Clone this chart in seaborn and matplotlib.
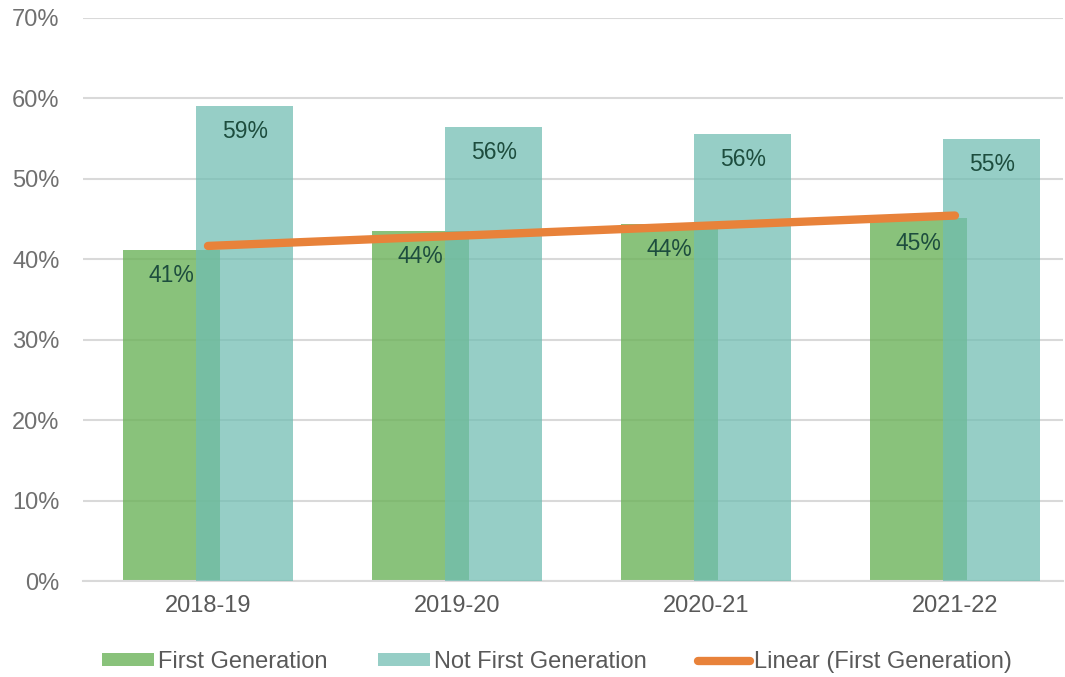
import pandas as pd
import numpy as np
import matplotlib
matplotlib.use("Agg")
import matplotlib.pyplot as plt
import seaborn as sns

years = ["2018-19", "2019-20", "2020-21", "2021-22"]
first_gen = [41.2, 43.5, 44.4, 45.1]
not_first_gen = [59.1, 56.5, 55.6, 55.0]
first_labels = ["41%", "44%", "44%", "45%"]
not_first_labels = ["59%", "56%", "56%", "55%"]
legend_order = ["First Generation", "Not First Generation", "Linear (First Generation)"]

sns.set_style("white")
plt.rcParams['font.family'] = ['Liberation Sans', 'DejaVu Sans']

green = "#6cb35a"
teal = "#70bdb2"
orange = "#e8823a"
label_col = "#1d4d3e"

idx = np.arange(len(years))
offset = 0.148
df_fg = pd.DataFrame({"x": idx - offset, "v": first_gen})
df_nfg = pd.DataFrame({"x": idx + offset, "v": not_first_gen})
df_trend = pd.DataFrame({"x": idx, "v": first_gen})

fig = plt.figure(figsize=(10.65, 6.77), dpi=100)
ax = fig.add_axes([83 / 1065, 1 - 581 / 677, (1063 - 83) / 1065, (581 - 18) / 677])

sns.barplot(data=df_fg, x="x", y="v", native_scale=True, width=0.39,
            color=green, alpha=0.8, saturation=1, ax=ax, zorder=2,
            linewidth=0, label=legend_order[0])
sns.barplot(data=df_nfg, x="x", y="v", native_scale=True, width=0.39,
            color=teal, alpha=0.73, saturation=1, ax=ax, zorder=3,
            linewidth=0, label=legend_order[1])
sns.regplot(data=df_trend, x="x", y="v", scatter=False, ci=None, truncate=True,
            color=orange, ax=ax, label=legend_order[2],
            line_kws=dict(lw=6, solid_capstyle="round", zorder=4))

# data labels inside the top of each bar
for xs, vals, labs in [(df_fg["x"], first_gen, first_labels),
                       (df_nfg["x"], not_first_gen, not_first_labels)]:
    for x, v, t in zip(xs, vals, labs):
        ax.annotate(t, (x, v), xytext=(0, -18.5), textcoords="offset points",
                    ha="center", va="center", fontsize=16.5, color=label_col,
                    zorder=5)

ax.set_ylim(0, 70)
ax.set_xlim(-0.502, 3.434)
ax.set_yticks(range(0, 71, 10))
ax.set_yticklabels([f"{t}%" for t in range(0, 71, 10)])
ax.set_xticks(idx)
ax.set_xticklabels(years)
ax.yaxis.grid(True, color="#d9d9d9", lw=1.5, zorder=0)
ax.set_axisbelow(True)
for s in ["top", "right", "left"]:
    ax.spines[s].set_visible(False)
ax.spines["bottom"].set_color("#d9d9d9")
ax.spines["bottom"].set_linewidth(1.5)
ax.tick_params(axis="y", length=0, pad=17, labelsize=17, labelcolor="#707070")
ax.tick_params(axis="x", length=0, pad=10, labelsize=17, labelcolor="#595959")
ax.set_xlabel("")
ax.set_ylabel("")

handles, labels = ax.get_legend_handles_labels()
if ax.get_legend() is not None:
    ax.get_legend().remove()
lookup = dict(zip(labels, handles))
leg = fig.legend([lookup[l] for l in legend_order], legend_order,
                 loc="center", bbox_to_anchor=(557 / 1065, 1 - 662 / 677),
                 ncol=3, frameon=False, fontsize=17, handlelength=2.2,
                 handleheight=0.45, handletextpad=0.17, columnspacing=2.15,
                 borderpad=0)
for t in leg.get_texts():
    t.set_color("#595959")

fig.savefig("out.png", dpi=100, facecolor="white")
